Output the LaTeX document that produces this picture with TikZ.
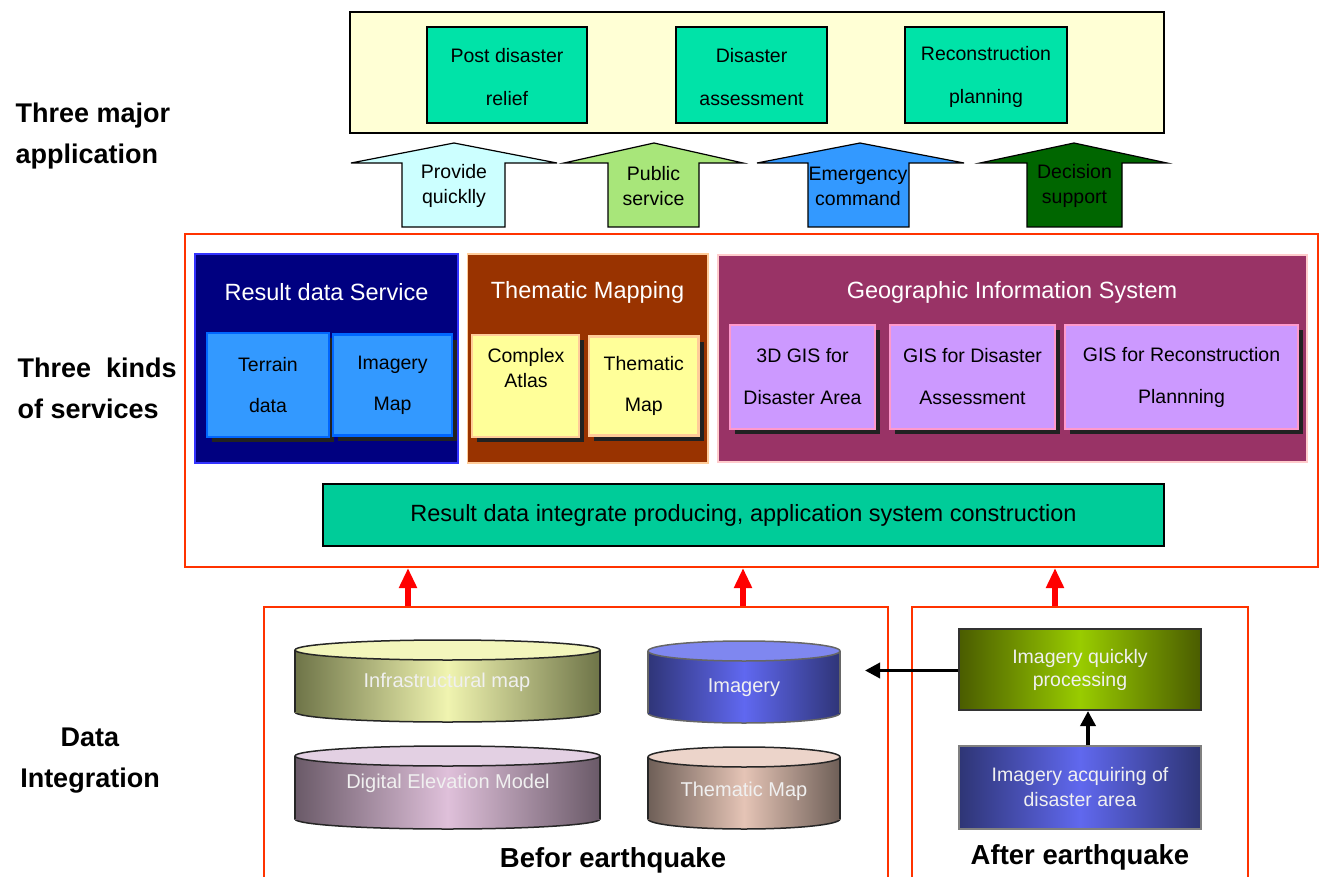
\documentclass[tikz,border=0pt]{standalone}
\usepackage{fontspec}
\setmainfont{Liberation Sans}
\usetikzlibrary{arrows.meta,shadows}
\definecolor{yellowbg}{HTML}{FFFFD5}
\definecolor{topgreen}{HTML}{00E3A8}
\definecolor{aone}{HTML}{CCFFFF}
\definecolor{atwo}{HTML}{A8E67A}
\definecolor{athree}{HTML}{3399FF}
\definecolor{afour}{HTML}{006600}
\definecolor{redline}{HTML}{FF3300}
\definecolor{navy}{HTML}{000080}
\definecolor{navyborder}{HTML}{3333FF}
\definecolor{lblue}{HTML}{3399FF}
\definecolor{lblueborder}{HTML}{0066FF}
\definecolor{brownbg}{HTML}{993300}
\definecolor{peach}{HTML}{FFCC99}
\definecolor{lyellow}{HTML}{FFFF99}
\definecolor{plum}{HTML}{993366}
\definecolor{pinkborder}{HTML}{FFCCCC}
\definecolor{lilac}{HTML}{CC99FF}
\definecolor{pinkb}{HTML}{FF99CC}
\definecolor{barc}{HTML}{00CC99}
\definecolor{shadowc}{HTML}{222222}
\definecolor{olivedark}{HTML}{4A5C00}
\definecolor{olivebright}{HTML}{99CC00}
\definecolor{bluedark}{HTML}{2E3575}
\definecolor{bluebright}{HTML}{6068EE}
\definecolor{infside}{HTML}{6E7448}
\definecolor{infmid}{HTML}{F0F4B0}
\definecolor{inftop}{HTML}{F3F6BC}
\definecolor{imgside}{HTML}{2F3578}
\definecolor{imgmid}{HTML}{6068F0}
\definecolor{imgtop}{HTML}{7F87F0}
\definecolor{demside}{HTML}{6A5A68}
\definecolor{demmid}{HTML}{DFC0DA}
\definecolor{demtop}{HTML}{E3D0E3}
\definecolor{tmside}{HTML}{6E5F57}
\definecolor{tmmid}{HTML}{E5C4B6}
\definecolor{tmtop}{HTML}{ECD4CA}
\newcommand\mycyl[8]{%
  \path[left color=#5,right color=#5,middle color=#6,draw=#8,line width=1.5pt]
    (#1,#4) ellipse [x radius=#2pt, y radius=10pt];
  \path[left color=#5,right color=#5,middle color=#6]
    ({#1-#2},#3) rectangle ({#1+#2},#4);
  \draw[#8,line width=1.5pt] ({#1-#2},#3) -- ({#1-#2},#4) ({#1+#2},#3) -- ({#1+#2},#4);
  \path[fill=#7,draw=#8,line width=1.5pt] (#1,#3) ellipse [x radius=#2pt, y radius=10pt];
}
\begin{document}
\begin{tikzpicture}[x=1pt,y=-1pt,
  box/.style={rectangle,inner sep=0pt,align=center},
  txt/.style={font=\fontsize{19.5}{#1}\selectfont,align=center},
  txt/.default=41,
  title/.style={font=\fontsize{23.5}{28}\selectfont,text=white},
  lbl/.style={font=\fontsize{27}{41}\selectfont\bfseries,align=left},
  shad/.style={drop shadow={shadow xshift=5pt,shadow yshift=-5pt,fill=shadowc,opacity=1}},
  blockarrow/.style={draw=black,line width=1.2pt,line join=miter},
  redarrow/.style={draw=red,line width=6pt,-{Triangle[width=17pt,length=20pt]}},
  blackarrow/.style={draw=black,line width=3.5pt,-{Triangle[width=15pt,length=15pt]}},
  cyltext/.style={font=\fontsize{20}{24}\selectfont,text=white!94!black}
]
\useasboundingbox[fill=white] (0,0) rectangle (1319,877);

% ---------- left labels
\node[lbl,anchor=west] (lab1) at (12,136.5) {Three major\\application};
\node[lbl,anchor=west] (lab2) at (14,388) {Three\ \ kinds\\of services};
\node[lbl,align=center] (lab3) at (90,760.5) {Data\\Integration};

% ---------- top application box
\node[box,draw=black,line width=1.5pt,fill=yellowbg,minimum width=814pt,minimum height=121pt] (top) at (757,72.5) {};
\node[box,draw=black,line width=1.5pt,fill=topgreen,minimum width=160pt,minimum height=96pt] (g1) at (507,75) {};
\node[txt=43] (g1t) at (507,77) {Post disaster\\relief};
\node[box,draw=black,line width=1.5pt,fill=topgreen,minimum width=151pt,minimum height=96pt] (g2) at (751.5,75) {};
\node[txt=43] (g2t) at (751.5,77) {Disaster\\assessment};
\node[box,draw=black,line width=1.5pt,fill=topgreen,minimum width=162pt,minimum height=96pt] (g3) at (986,75) {};
\node[txt=43] (g3t) at (986,77) {Reconstruction\\planning};

% ---------- block arrows
\path[blockarrow,fill=aone] (351,163) -- (454,143) -- (557,163) -- (505,163) -- (505,227) -- (402,227) -- (402,163) -- cycle;
\node[txt=25] (a1) at (454,186) {Provide\\quicklly};
\path[blockarrow,fill=atwo] (564,163) -- (654,143) -- (743,163) -- (699,163) -- (699,227) -- (608,227) -- (608,163) -- cycle;
\node[txt=25] (a2) at (653.5,186) {Public\\service};
\path[blockarrow,fill=athree] (757,163) -- (860,143) -- (964,163) -- (909,163) -- (909,227) -- (808,227) -- (808,163) -- cycle;
\node[txt=25] (a3) at (858,186) {Emergency\\command};
\path[blockarrow,fill=afour] (980,163) -- (1074,143) -- (1167,163) -- (1122,163) -- (1122,227) -- (1027,227) -- (1027,163) -- cycle;
\node[txt=25] (a4) at (1074.5,186) {Decision\\support};

% ---------- services box
\node[box,draw=redline,line width=2pt,minimum width=1133pt,minimum height=333pt] (mid) at (751.5,400.5) {};

\node[box,draw=navyborder,line width=1.5pt,fill=navy,minimum width=263pt,minimum height=209pt] (rds) at (326.5,358.5) {};
\node[title] (rdst) at (326.5,292) {Result data Service};
\node[box,shad,draw=lblueborder,line width=2.5pt,fill=lblue,minimum width=122pt,minimum height=104pt,txt] (terrain) at (268,385) {Terrain\\data};
\node[box,shad,draw=lblueborder,line width=2.5pt,fill=lblue,minimum width=119pt,minimum height=101pt,txt] (imap) at (392.5,385) {Imagery\\Map};

\node[box,draw=peach,line width=1.5pt,fill=brownbg,minimum width=240.5pt,minimum height=209pt] (thm) at (587.75,358.5) {};
\node[title] (thmt) at (587.5,292) {Thematic Mapping};
\node[box,shad,draw=peach,line width=2.5pt,fill=lyellow,minimum width=107pt,minimum height=102pt] (catlas) at (525.5,386) {};
\node[txt=25] (catlast) at (526,368.5) {Complex\\Atlas};
\node[box,shad,draw=peach,line width=2.5pt,fill=lyellow,minimum width=109.5pt,minimum height=99pt,txt] (tmap) at (643.75,386) {Thematic\\Map};

\node[box,draw=pinkborder,line width=1.5pt,fill=plum,minimum width=589pt,minimum height=207pt] (gis) at (1012.5,358.5) {};
\node[title] (gist) at (1012,292) {Geographic Information System};
\node[box,shad,draw=pinkb,line width=2.5pt,fill=lilac,minimum width=145pt,minimum height=104pt,txt=42] (g3d) at (802.5,377) {3D GIS for\\Disaster Area};
\node[box,shad,draw=pinkb,line width=2.5pt,fill=lilac,minimum width=165pt,minimum height=104pt,txt=42] (gda) at (972.5,377) {GIS for Disaster\\Assessment};
\node[box,shad,draw=pinkb,line width=2.5pt,fill=lilac,minimum width=233pt,minimum height=104pt,txt=42] (grp) at (1181.5,377) {GIS for Reconstruction\\Plannning};

\node[box,draw=black,line width=1.5pt,fill=barc,minimum width=841pt,minimum height=62pt,font=\fontsize{23.5}{28}\selectfont] (bar) at (743.5,515) {Result data integrate producing, application system construction};

% ---------- data integration boxes
\node[box,draw=redline,line width=1.5pt,minimum width=624pt,minimum height=293pt] (before) at (576,753.5) {};
\node[box,draw=redline,line width=1.5pt,minimum width=336pt,minimum height=293pt] (after) at (1080,753.5) {};

\mycyl{447.5}{152.5}{650}{712}{infside}{infmid}{inftop}{black!85}
\node[cyltext] (infra) at (447,682) {Infrastructural map};
\mycyl{744}{96}{651}{713}{imgside}{imgmid}{imgtop}{black!60}
\node[cyltext] (img) at (744,688) {Imagery};
\mycyl{447.5}{152.5}{756}{819}{demside}{demmid}{demtop}{black!85}
\node[cyltext] (dem) at (448,783) {Digital Elevation Model};
\mycyl{744}{96}{757}{819}{tmside}{tmmid}{tmtop}{black!85}
\node[cyltext] (tm) at (744,791) {Thematic Map};

\node[box,draw=black!80,line width=2pt,left color=olivedark,right color=olivedark,middle color=olivebright,minimum width=242pt,minimum height=81pt,font=\fontsize{19.5}{23}\selectfont,text=white!94!black] (proc) at (1080,669.5) {Imagery quickly\\processing};
\node[box,draw=black!50,line width=2pt,left color=bluedark,right color=bluedark,middle color=bluebright,minimum width=242pt,minimum height=83pt,font=\fontsize{19.5}{25}\selectfont,text=white!94!black] (acq) at (1080,787.5) {Imagery acquiring of\\disaster area};

\node[font=\fontsize{27.5}{30}\selectfont\bfseries] (bef) at (613,860) {Befor earthquake};
\node[font=\fontsize{27.5}{30}\selectfont\bfseries] (aft) at (1080,857) {After earthquake};

% ---------- connectors
\coordinate (r1) at (408,0);
\coordinate (r2) at (743,0);
\coordinate (r3) at (1055,0);
\draw[redarrow] (r1 |- before.north) -- (r1 |- mid.south);
\draw[redarrow] (r2 |- before.north) -- (r2 |- mid.south);
\draw[redarrow] (r3 |- after.north) -- (r3 |- mid.south);

\coordinate (imgin) at (865,670.5);
\draw[blackarrow] (proc.west |- imgin) -- (imgin);
\coordinate (ax) at (1088,0);
\draw[blackarrow] (ax |- acq.north) -- (ax |- proc.south);
\end{tikzpicture}
\end{document}
